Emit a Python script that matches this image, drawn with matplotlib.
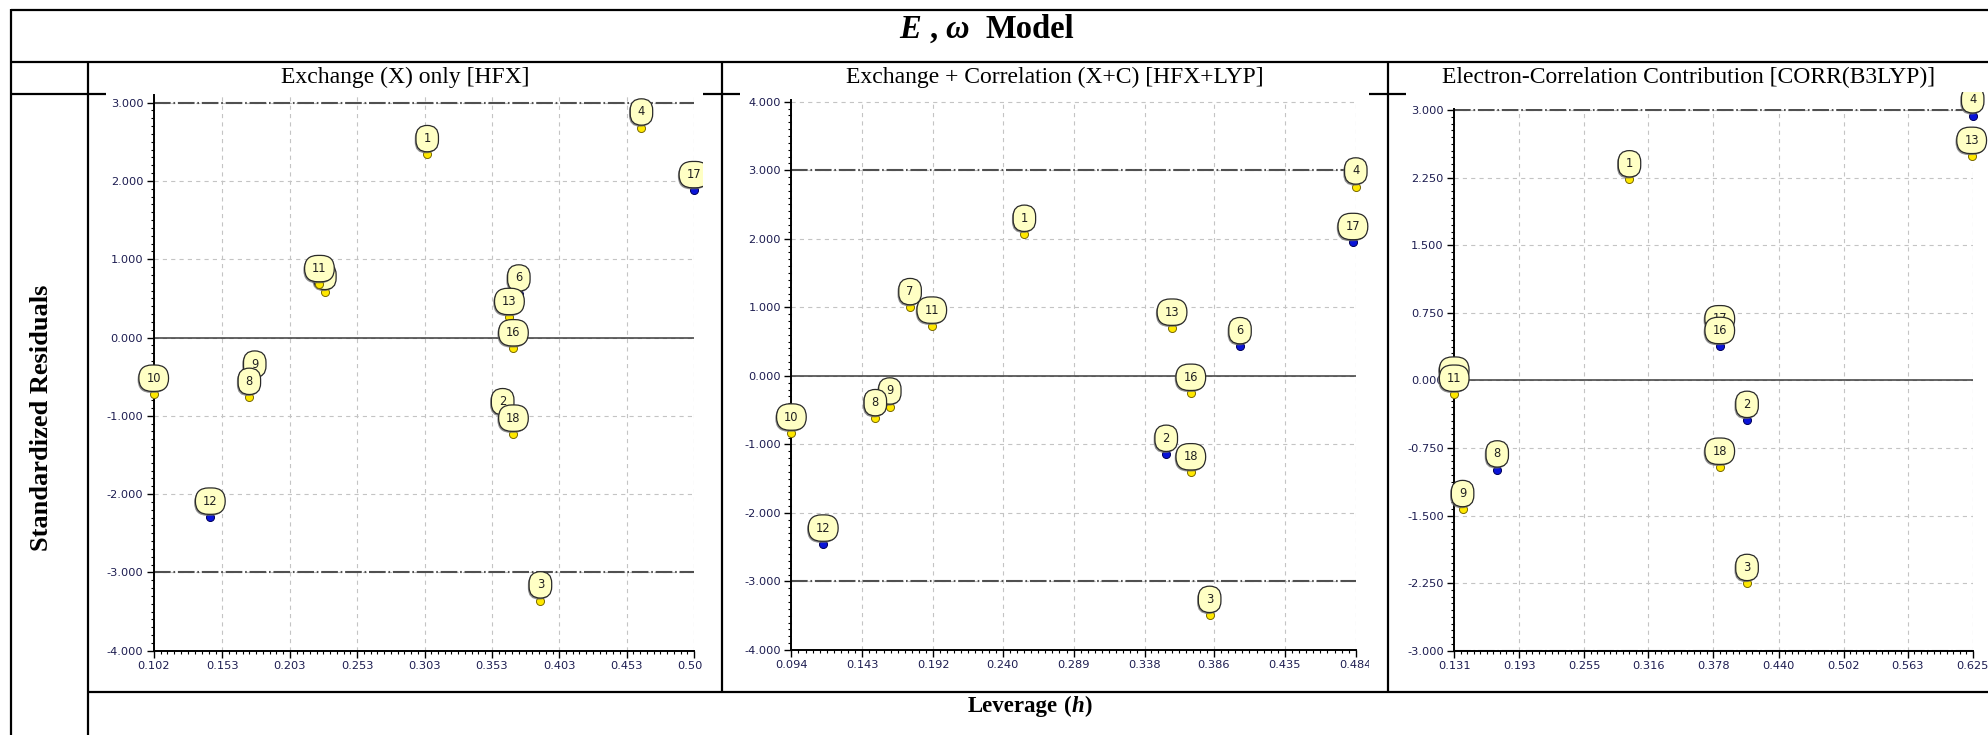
import matplotlib
matplotlib.use("Agg")
import matplotlib.pyplot as plt
from matplotlib.lines import Line2D
from matplotlib.patches import BoxStyle
from matplotlib.transforms import Bbox, TransformedBbox
from matplotlib import patheffects as pe

plt.rcParams['lines.scale_dashes'] = False

W, H, DPI = 1988, 735, 100
SERIF = 'Liberation Serif'
SANS = 'DejaVu Sans'

# ---------------- data ----------------
col_titles = ["Exchange (X) only [HFX]",
              "Exchange + Correlation (X+C) [HFX+LYP]",
              "Electron-Correlation Contribution [CORR(B3LYP)]"]
y_title = "Standardized Residuals"

# Exchange (X) only [HFX]
hfx_id = [1, 2, 3, 4, 6, 7, 9, 8, 10, 11, 12, 13, 16, 17, 18]
hfx_lev = [0.305, 0.361, 0.389, 0.464, 0.373, 0.229, 0.177, 0.173, 0.102,
           0.225, 0.144, 0.366, 0.369, 0.503, 0.369]
hfx_res = [2.34, -1.02, -3.36, 2.68, 0.56, 0.58, -0.54, -0.76, -0.72,
           0.68, -2.29, 0.26, -0.14, 1.88, -1.23]
hfx_test = [2, 6, 12, 17]
hfx_xticks = ["0.102", "0.153", "0.203", "0.253", "0.303", "0.353", "0.403", "0.453", "0.503"]
hfx_yticks = ["-4.000", "-3.000", "-2.000", "-1.000", "0.000", "1.000", "2.000", "3.000"]

# Exchange + Correlation (X+C) [HFX+LYP]
xc_id = [1, 2, 3, 4, 6, 7, 9, 8, 10, 11, 12, 13, 16, 17, 18]
xc_lev = [0.255, 0.353, 0.383, 0.484, 0.404, 0.176, 0.162, 0.152, 0.094,
          0.191, 0.116, 0.357, 0.370, 0.482, 0.370]
xc_res = [2.07, -1.14, -3.49, 2.76, 0.43, 1.00, -0.45, -0.62, -0.83,
          0.73, -2.45, 0.70, -0.25, 1.95, -1.41]
xc_test = [2, 6, 12, 17]
xc_xticks = ["0.094", "0.143", "0.192", "0.240", "0.289", "0.338", "0.386", "0.435", "0.484"]
xc_yticks = ["-4.000", "-3.000", "-2.000", "-1.000", "0.000", "1.000", "2.000", "3.000", "4.000"]

# Electron-Correlation Contribution [CORR(B3LYP)]
corr_id = [1, 2, 3, 4, 8, 9, 10, 11, 13, 17, 16, 18]
corr_lev = [0.298, 0.410, 0.410, 0.625, 0.172, 0.139, 0.131, 0.131, 0.624,
            0.384, 0.384, 0.384]
corr_res = [2.23, -0.44, -2.25, 2.94, -0.99, -1.43, -0.06, -0.15, 2.49,
            0.51, 0.38, -0.96]
corr_test = [2, 4, 8, 16, 17]
corr_xticks = ["0.131", "0.193", "0.255", "0.316", "0.378", "0.440", "0.502", "0.563", "0.625"]
corr_yticks = ["-3.000", "-2.250", "-1.500", "-0.750", "0.000", "0.750", "1.500", "2.250", "3.000"]

# ---------------- figure ----------------
fig = plt.figure(figsize=(W / DPI, H / DPI), dpi=DPI)
fig.patch.set_facecolor('white')


def fbox(x0, y0, x1, y1):
    """Pixel box (top-left origin) -> clip box in display space."""
    return TransformedBbox(Bbox.from_extents(x0 / W, 1 - y1 / H, x1 / W, 1 - y0 / H),
                           fig.transFigure)


def minors(vals, n=10):
    out = []
    for a, b in zip(vals[:-1], vals[1:]):
        out += [a + (b - a) * k / n for k in range(1, n)]
    return out


def balloon(x0, y0, width, height, mutation_size):
    """Rounded call-out box with fully rounded ends."""
    padx = 0.66 * mutation_size
    pady = 0.58 * mutation_size
    x0, y0 = x0 - padx, y0 - pady
    width, height = width + 2 * padx, height + 2 * pady
    r = 0.5 * min(width, height)
    return BoxStyle.Round(pad=0, rounding_size=r)(x0, y0, width, height, 1)


def panel(ax_px, ylim, xlabels, ylabels, ids, lev, res, test, clip_px):
    l, t, r, b = ax_px
    ax = fig.add_axes([l / W, 1 - b / H, (r - l) / W, (b - t) / H])
    ax.set_facecolor('none')
    xt = [float(s) for s in xlabels]
    yt = [float(s) for s in ylabels]
    ax.set_xlim(xt[0], xt[-1])
    ax.set_ylim(*ylim)
    ax.set_xticks(xt)
    ax.set_xticklabels(xlabels)
    ax.set_yticks(yt)
    ax.set_yticklabels(ylabels)
    ax.set_xticks(minors(xt), minor=True)
    ax.set_yticks(minors(yt), minor=True)
    for s in ('top', 'right'):
        ax.spines[s].set_visible(False)
    for s in ('left', 'bottom'):
        ax.spines[s].set_color('black')
        ax.spines[s].set_linewidth(1.4)
        ax.spines[s].set_zorder(3)
    ax.tick_params(which='major', direction='out', length=5, width=1.0,
                   color='black', labelsize=8.2, labelcolor='#1c1c50', pad=2.5)
    ax.tick_params(which='minor', direction='out', length=2.2, width=0.8, color='black')
    for lab in ax.get_xticklabels() + ax.get_yticklabels():
        lab.set_fontfamily(SANS)
    ax.grid(True, which='major', color='#c4c4c4', linestyle=(0, (3, 3)), linewidth=0.8)
    ax.set_axisbelow(True)

    for yv in (3, -3):
        ax.axhline(yv, color='#505050', lw=1.5, linestyle=(0, (12, 2, 1.2, 2)), zorder=2)
    ax.axhline(0, color='#3a3a3a', lw=1.1, zorder=2)

    clip = fbox(*clip_px)
    for lab in ax.get_xticklabels() + ax.get_yticklabels():
        lab.set_clip_box(clip)
        lab.set_clip_on(True)

    for i, (k, x, y) in enumerate(zip(ids, lev, res)):
        if k in test:
            fc, ec = '#0a14d8', '#00005a'
        else:
            fc, ec = '#ffe800', '#7a6a00'
        ln, = ax.plot([x], [y], 'o', ms=5.8, mfc=fc, mec=ec, mew=0.7, zorder=10 + 2 * i)
        ln.set_clip_box(clip)
        ann = ax.annotate(str(k), (x, y), xytext=(0, 11.3), textcoords='offset points',
                          ha='center', va='center', fontsize=8.3, family=SANS,
                          color='#202020', zorder=11 + 2 * i, annotation_clip=False,
                          bbox=dict(boxstyle=balloon, fc='#ffffc4', ec='#2a2a2a', lw=0.9))
        ann.get_bbox_patch().set_path_effects(
            [pe.SimplePatchShadow(offset=(-0.9, -1.1), shadow_rgbFace='#6e6e6e', alpha=0.75),
             pe.Normal()])
        ann.set_clip_box(clip)
        ann.set_clip_on(True)
    return ax


panel((153.7, 94.8, 694.0, 650.7), (-4, 3.1), hfx_xticks, hfx_yticks,
      hfx_id, hfx_lev, hfx_res, hfx_test, (106, 92, 703, 689))
panel((791.4, 100.3, 1355.8, 650.0), (-4, 4.02), xc_xticks, xc_yticks,
      xc_id, xc_lev, xc_res, xc_test, (740, 92, 1369, 689))
panel((1454.2, 109.2, 1972.7, 650.7), (-3, 3.01), corr_xticks, corr_yticks,
      corr_id, corr_lev, corr_res, corr_test, (1406, 92, 1988, 689))

# ---------------- table frame ----------------
LW = 1.6


def seg(x0, y0, x1, y1, lw=LW):
    fig.add_artist(Line2D([x0 / W, x1 / W], [1 - y0 / H, 1 - y1 / H],
                          transform=fig.transFigure, color='black', lw=lw,
                          solid_capstyle='butt', zorder=50))


seg(11, 10, W + 5, 10)
seg(11, 61.7, W + 5, 61.7)
for a, b in ((11, 106), (703, 740), (1369, 1406)):
    seg(a, 93.5, b, 93.5)
seg(88.3, 691.7, W + 5, 691.7)
seg(11, 9, 11, H + 5)
seg(88.3, 61.7, 88.3, H + 5)
seg(721.7, 61.7, 721.7, 691.7)
seg(1388.3, 61.7, 1388.3, 691.7)

# ---------------- texts ----------------
renderer = fig.canvas.get_renderer()


def rich(cx, base_y, pieces, size, gap_em=0.25):
    """Draw bold serif pieces (text, style) side by side, centred on cx."""
    arts, widths = [], []
    for s, st in pieces:
        if s == ' ':
            arts.append(None)
            widths.append(gap_em * size * DPI / 72)
            continue
        tx = fig.text(0, 0, s, fontsize=size, family=SERIF, weight='bold', style=st,
                      ha='left', va='baseline', color='black')
        arts.append(tx)
        widths.append(tx.get_window_extent(renderer).width)
    x = cx - sum(widths) / 2
    for tx, w in zip(arts, widths):
        if tx is not None:
            tx.set_position((x / W, 1 - base_y / H))
        x += w


rich(987, 37.5, [('E', 'italic'), (' ', 'normal'), (',', 'normal'), (' ', 'normal'),
                 ('ω', 'italic'), (' ', 'normal'), (' ', 'normal'), ('Model', 'normal')], 23.5)

for cx, s in zip((405, 1055, 1689), col_titles):
    fig.text(cx / W, 1 - 77.5 / H, s, fontsize=17, family=SERIF, ha='center', va='center')

fig.text(42 / W, 1 - 418 / H, y_title, fontsize=19, family=SERIF, weight='bold',
         rotation=90, ha='center', va='center')

rich(1030, 712, [('Leverage', 'normal'), (' ', 'normal'), ('(', 'normal'),
                 ('h', 'italic'), (')', 'normal')], 16.5)

fig.savefig('out.png', dpi=DPI, facecolor='white')
